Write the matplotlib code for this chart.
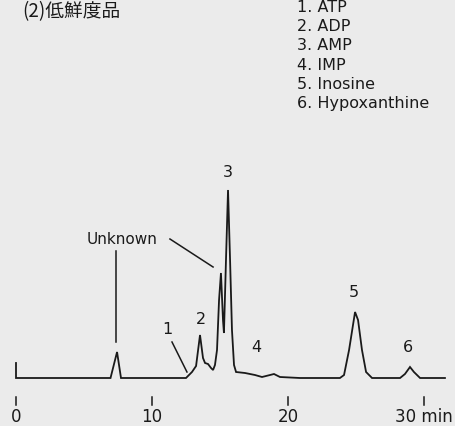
import matplotlib
matplotlib.use("Agg")
import matplotlib.pyplot as plt

# chromatogram trace: time (min) vs detector signal
trace_time = [0.0, 0.0, 6.95, 7.43, 7.72, 12.5, 12.94, 13.24, 13.53, 13.75, 13.9,
              14.12, 14.34, 14.49, 14.63, 14.78, 14.93, 15.07, 15.22, 15.29, 15.44,
              15.59, 15.74, 15.88, 16.03, 16.18, 16.84, 17.57, 18.09, 18.68, 18.97,
              19.41, 20.88, 23.82, 24.12, 24.49, 24.93, 25.15, 25.44, 25.74, 26.18,
              28.24, 28.6, 28.97, 29.26, 29.71, 31.54]
trace_signal = [15, 0, 0, 26, 0, 0, 6, 12, 43, 20, 15,
                14, 10, 8, 13, 28, 78, 105, 58, 45, 118,
                188, 118, 48, 13, 6, 5, 3, 1, 3, 4,
                1, 0, 0, 3, 28, 66, 58, 28, 6, 0,
                0, 4, 11, 6, 0, 0]

# peak numbers and where their labels sit
peak_labels = ["1", "2", "3", "4", "5", "6"]
peak_label_time = [11.1, 13.6, 15.59, 17.65, 24.85, 28.8]
peak_label_signal = [44, 54, 201, 26, 81, 26]

legend_items = ["1. ATP", "2. ADP", "3. AMP", "4. IMP", "5. Inosine", "6. Hypoxanthine"]

tick_values = [0, 10, 20, 30]
tick_labels = ["0", "10", "20", "30 min"]

title = "(2)低鮮度品"

bg = "#ebebeb"
ink = "#1a1a1a"

fig = plt.figure(figsize=(4.55, 4.26), dpi=100, facecolor=bg)
ax = fig.add_axes([0, 0, 1, 1])
ax.set_facecolor(bg)
ax.set_xlim(-16 / 13.6, 439 / 13.6)
ax.set_ylim(-48, 378)
ax.axis("off")

ax.plot(trace_time, trace_signal, color=ink, lw=1.3, solid_joinstyle="miter")

# peak numbers
for lab, t, s in zip(peak_labels, peak_label_time, peak_label_signal):
    ax.text(t, s, lab, ha="center", va="baseline", fontsize=11.5, color=ink)

# leader line for peak 1
ax.plot([11.47, 12.57], [36, 6], color=ink, lw=1.1)

# "Unknown" label and its two leader lines
ax.text(7.83, 134, "Unknown", ha="center", va="baseline", fontsize=11, color=ink)
ax.plot([7.35, 7.35], [127, 36], color=ink, lw=1.1)
ax.plot([11.32, 14.49], [139, 111], color=ink, lw=1.1)

# time axis: short tick marks and labels
for v, lab in zip(tick_values, tick_labels):
    ax.plot([v, v], [-19, -27], color=ink, lw=1.1)
    ax.text(v, -47.5, lab, ha="center", va="bottom", fontsize=12, color=ink)

# compound list at top right
for i, item in enumerate(legend_items):
    ax.text(20.66, 366 - i * 19.2, item, ha="left", va="baseline",
            fontsize=11.5, color=ink)

ax.text(0.44, 377, title, ha="left", va="top", fontsize=13.5, color=ink,
        family=["Noto Sans CJK JP", "DejaVu Sans"])

fig.savefig("out.png", dpi=100, facecolor=bg)
